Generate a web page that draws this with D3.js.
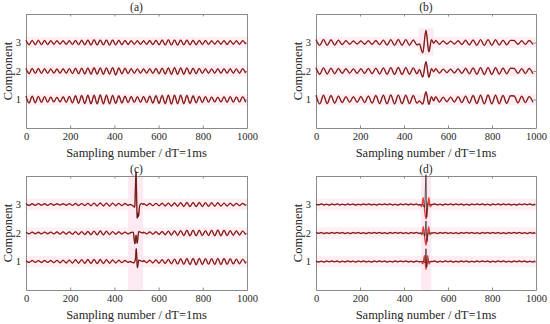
<!DOCTYPE html>
<html><head><meta charset="utf-8">
<script src="https://cdn.jsdelivr.net/npm/d3@7"></script>
<style>
body{margin:0;background:#fff}
svg{display:block}
text{font-family:"Liberation Serif","Times New Roman",serif;fill:#262626}
</style>
</head><body><svg id="chart" width="550" height="324"></svg>
<script>
// ---------- data ----------
const panelTitles = ["(a)", "(b)", "(c)", "(d)"];
const xTicks = [0, 200, 400, 600, 800, 1000];
const yTicks = [1, 2, 3];
const components = [1, 2, 3];
const xLabel = "Sampling number / dT=1ms";
const yLabel = "Component";
// sample spacing between successive extrema of the wiggle, per panel
const halfPeriods = [14, 17, 14, 12];

// panel (a) extrema (offset from component level)
const wigA1 = [.12,-.125,.12,-.115,.11,-.105,.1,-.095, .09,-.09,.085,-.09,.095,-.1,.11,-.12,.13,-.135, .14,-.145,.15,-.155,.15,-.155,.16,-.155,.15,-.15,.145,-.14,.13,-.125,.12, -.11,.105,-.1,.095,-.1,.105,-.11,.12,-.13,.135,-.14, .145,-.15,.155,-.16,.155,-.15,.155,-.15,.145,-.14,.13,-.12,.11,-.105,.1, -.095,.09,-.09,.085,-.09,.095,-.1,.1,-.095,.09,-.09,.095,-.1];
const wigA2 = [.09,-.095,.09,-.085,.09,-.085,.08,-.08, .075,-.075,.07,-.075,.08,-.08,.085,-.09,.095,-.1, .1,-.105,.11,-.11,.115,-.11,.11,-.115,.11,-.105,.12,-.14,.11,-.1,.095, -.09,.085,-.08,.075,-.075,.07,-.075,.08,-.085,.09,-.095, .1,-.105,.11,-.115,.12,-.115,.11,-.115,.11,-.105,.1,-.095,.09,-.085,.08, -.08,.075,-.075,.08,-.08,.085,-.08,.08,-.075,.075,-.08,.08,-.075];
const wigA3 = [.08,-.08,.075,-.08,.08,-.075,.07,-.07, .065,-.06,.06,-.055,.06,-.065,.06,-.065,.07,-.075, .08,-.085,.09,-.09,.095,-.09,.09,-.085,.09,-.095,.09,-.085,.08,-.08,.075, -.07,.065,-.06,.06,-.065,.06,-.065,.07,-.075,.08,-.085, .09,-.09,.095,-.09,.09,-.095,.09,-.085,.09,-.085,.08,-.08,.075,-.07,.07, -.065,.06,-.06,.065,-.06,.065,-.07,.065,-.06,.06,-.065,.06,-.06];

// panel (b)
const wigB1 = [.15,-.155,.15,-.145,.14,-.13,.12, -.11,.1,-.095,.095,-.1,.105,-.11,.12,-.13,.14,-.145, .15,-.155,.16,-.155,.155,-.15,.15,-.145,.14,-.13, 0,0,0,0, .1,-.09,.085,-.08,.085,-.09,.1, -.11,.12,-.13,.14,-.145,.15,-.155,.16,-.155,.15,-.15,.145,-.14,.13, .125,-.12,.115,-.11,.105,-.1];
const wigB2 = [.11,-.115,.11,-.105,.1,-.095,.09, -.085,.08,-.075,.075,-.08,.08,-.085,.09,-.095,.1,-.105, .11,-.115,.12,-.12,.125,-.12,.12,-.115,.11,-.1, 0,0,0,0, .08,-.07,.065,-.06,.065,-.07,.075, -.085,.095,-.1,.11,-.115,.12,-.125,.12,-.12,.115,-.11,.105,-.1,.095, .09,-.085,.085,-.09,.09,-.095];
const wigB3 = [.1,-.1,.105,-.1,.095,-.09,.085, -.075,.065,-.06,.055,-.05,.055,-.06,.06,-.065,.07,-.075, .085,-.09,.1,-.1,.105,-.1,.1,-.095,.09,-.085, 0,0,0,0, .07,-.06,.055,-.05,.05,-.055,.06, -.07,.08,-.085,.09,-.1,.1,-.105,.1,-.1,.095,-.09,.085,-.08,.075, .07,-.065,.06,-.065,.07,-.07];

// panel (c)
const wigC1 = [.03,-.03,.035,-.03,.03,-.035,.035,-.03,.035,-.04,.04,-.045,.045,-.05,.05,-.055,.06,-.06,.065,-.065,.07, -.07,.075,-.075,.07,-.07,.065,-.06,.055,-.05,.045,-.04,.035,-.03, 0,0,0,0, .035,-.04,.045,-.05,.055,-.06,.065,-.07,.075,-.08,.085,-.09, .095,-.1,.105,-.11,.11,-.115,.11,-.105,.1,-.095,.1,-.105,.11,-.11,.105,-.1,.095,-.09,.085,-.08,.075,-.07];
const wigC2 = [.025,-.03,.03,-.025,.025,-.03,.03,-.025,.03,-.03,.035,-.035,.04,-.04,.04,-.045,.045,-.05,.05,-.055,.055, -.06,.065,-.065,.07,-.065,.06,-.055,.05,-.045,.04,-.035,.03,-.03, 0,0,0,0, .03,-.03,.035,-.04,.045,-.05,.055,-.06,.065,-.07,.075,-.08, .085,-.09,.095,-.1,.1,-.1,.095,-.09,.085,-.09,.095,-.1,.105,-.1,.095,-.09,.085,-.08,.075,-.07,.065,-.06];
const wigC3 = [.03,-.03,.025,-.03,.03,-.025,.025,-.03,.03,-.025,.025,-.02,.025,-.025,.03,-.03,.035,-.035,.03,-.035,.04, -.045,.05,-.05,.055,-.05,.05,-.055,.05,-.045,.04,-.04,.035,-.03, 0,0,0,0, .03,-.035,.035,-.04,.04,-.045,.045,-.05,.05,-.055,.055,-.06, .065,-.07,.07,-.075,.075,-.075,.07,-.07,.065,-.065,.06,-.06,.06,-.055,.05,-.05,.045,-.045,.04,-.04,.035,-.035];

// panel (d)
const wigD1 = [.012,-.015,.01,-.018,.015,-.01,.02,-.012,.015,-.018,.01,-.015,.02,-.01,.012,-.018,.015,-.012,.02,-.015,.01,-.018,.015,-.012,.02,-.01,.015,-.018,.012,-.015,.02,-.01,.015,-.012,.018,-.015,.01,-.02,.015,-.012, 0,0,0,0,0, .015,-.02,.01,-.015,.018,-.012,.015,-.02,.01,-.015,.02,-.012,.015,-.018,.01,-.015,.02,-.012,.018,-.01,.015,-.02,.012,-.015,.018,-.01,.02,-.015,.012,-.018,.015,-.01,.02,-.012,.015,-.018,.01,-.015,.02];
const wigD2 = [.018,-.012,.015,-.02,.01,-.015,.018,-.012,.02,-.01,.015,-.018,.012,-.02,.015,-.01,.018,-.015,.012,-.02,.015,-.012,.02,-.01,.018,-.015,.01,-.02,.015,-.012,.018,-.01,.02,-.015,.012,-.018,.015,-.01,.02,-.015, 0,0,0,0,0, .012,-.018,.015,-.01,.02,-.015,.012,-.018,.01,-.02,.015,-.012,.018,-.01,.02,-.015,.012,-.02,.015,-.01,.018,-.015,.02,-.012,.015,-.018,.01,-.02,.015,-.012,.018,-.01,.02,-.015,.012,-.018,.015,-.01,.02];
const wigD3 = [.015,-.01,.02,-.015,.01,-.02,.015,-.01,.02,-.015,.012,-.018,.02,-.012,.015,-.02,.01,-.015,.018,-.012,.02,-.015,.01,-.02,.015,-.012,.018,-.01,.02,-.015,.012,-.02,.015,-.01,.018,-.015,.02,-.012,.015,-.018, 0,0,0,0,0, .02,-.015,.012,-.02,.015,-.01,.018,-.015,.02,-.012,.015,-.018,.01,-.02,.015,-.012,.018,-.01,.02,-.015,.012,-.02,.015,-.01,.018,-.015,.02,-.012,.015,-.018,.01,-.02,.015,-.012,.018,-.01,.02,-.015,.012];

// event wavelets around sample 500: [sample, offset]
const evB1 = [[470,-.05],[485,-.16],[500,.27],[513,-.17],[525,.1],[535,-.05]];
const evB2 = [[470,.05],[485,-.21],[500,.33],[513,-.22],[525,.08],[535,-.03]];
const evB3 = [[470,-.05],[485,-.36],[500,.42],[513,-.33],[525,.1],[535,-.03]];

const evC1red = [[470,0],[488,-.05],[495,.08],[499,.45],[504,-.22],[510,.05],[520,.02],[530,0]];
const evC2red = [[470,0],[485,.03],[493,-.38],[498,-.08],[503,-.36],[510,.05],[520,.02],[530,0]];
const evC3red = [[470,0],[485,-.05],[492,-.1],[498,1.15],[503,-.48],[506,-.3],[509,-.42],[514,-.05],[522,.04],[530,0]];
const evC1blk = evC1red, evC2blk = evC2red, evC3blk = evC3red;

const evD1red = [[478,0],[486,-.08],[493,.2],[500,-.28],[507,.2],[514,-.08],[522,0]];
const evD2red = [[474,0],[482,-.06],[488,.22],[494,-.15],[500,-.42],[506,-.15],[512,.22],[518,-.06],[526,0]];
const evD3red = [[472,0],[481,-.08],[487,.24],[494,-.2],[500,-.5],[506,-.2],[513,.24],[519,-.08],[528,0]];
const evD1blk = [[490,0],[496,-.05],[500,.45],[503,-.2],[508,0]];
const evD2blk = [[488,0],[495,-.1],[500,.42],[504,-.3],[510,0]];
const evD3blk = [[486,0],[494,-.1],[500,1.05],[503,-.45],[507,.05],[514,0]];

// light shaded zones [x0, x1, y0, y1]
const vZones = [null, [466, 534, 2.55, 3.5], [462, 530, 0, 4], [478, 524, 0, 4]];
const hZoneHalf = 0.2;

const wiggles = [[wigA1, wigA2, wigA3], [wigB1, wigB2, wigB3], [wigC1, wigC2, wigC3], [wigD1, wigD2, wigD3]];
const eventsRed = [[null, null, null], [evB1, evB2, evB3], [evC1red, evC2red, evC3red], [evD1red, evD2red, evD3red]];
const eventsBlk = [[null, null, null], [evB1, evB2, evB3], [evC1blk, evC2blk, evC3blk], [evD1blk, evD2blk, evD3blk]];

// ---------- layout ----------
const layout = [
  {x0: 26, x1: 247, y0: 14, y1: 128},
  {x0: 316, x1: 536, y0: 14, y1: 128},
  {x0: 26, x1: 247, y0: 176, y1: 290},
  {x0: 316, x1: 536, y0: 176, y1: 290}
];

const svg = d3.select("#chart");
const fmt = d3.format("d");

function buildPoints(wig, hp, ev) {
  let pts = wig.map((v, i) => [i * hp, v]).filter(d => d[0] <= 1000);
  if (ev) {
    const s0 = ev[0][0], s1 = ev[ev.length - 1][0];
    pts = pts.filter(d => d[0] < s0 || d[0] > s1).concat(ev);
    pts.sort((a, b) => a[0] - b[0]);
  }
  return pts;
}

layout.forEach((L, p) => {
  const w = L.x1 - L.x0, h = L.y1 - L.y0;
  const x = d3.scaleLinear().domain([0, 1000]).range([0, w]);
  const y = d3.scaleLinear().domain([0, 4]).range([h, 0]);
  const g = svg.append("g").attr("transform", `translate(${L.x0},${L.y0})`);

  // shaded zones
  components.forEach(c => {
    g.append("rect")
      .attr("x", x(0)).attr("width", x(1000) - x(0))
      .attr("y", y(c + hZoneHalf)).attr("height", y(c - hZoneHalf) - y(c + hZoneHalf))
      .attr("fill", "#fdeff5");
  });
  const vz = vZones[p];
  if (vz) {
    g.append("rect")
      .attr("x", x(vz[0])).attr("width", x(vz[1]) - x(vz[0]))
      .attr("y", y(vz[3])).attr("height", y(vz[2]) - y(vz[3]))
      .attr("fill", "#fce9f2");
  }

  // axes
  const ax = g.append("g").attr("transform", `translate(0,${h})`)
    .call(d3.axisBottom(x).tickValues(xTicks).tickFormat(fmt).tickSizeInner(-2.5).tickSizeOuter(0).tickPadding(5));
  const ay = g.append("g")
    .call(d3.axisLeft(y).tickValues(yTicks).tickFormat(fmt).tickSizeInner(-2.5).tickSizeOuter(0).tickPadding(5));
  const at = g.append("g")
    .call(d3.axisTop(x).tickValues(xTicks).tickSizeInner(-2.5).tickSizeOuter(0).tickFormat(""));
  const ar = g.append("g").attr("transform", `translate(${w},0)`)
    .call(d3.axisRight(y).tickValues(yTicks).tickSizeInner(-2.5).tickSizeOuter(0).tickFormat(""));
  [ax, ay, at, ar].forEach(a => {
    a.attr("font-family", null);
    a.select(".domain").attr("stroke", "#8a8a8a");
    a.selectAll(".tick line").attr("stroke", "#8a8a8a");
    a.selectAll(".tick text").attr("font-size", 10.5).attr("fill", "#333");
  });

  // traces
  const line = d3.line().x(d => x(d[0])).y(d => y(d[1])).curve(d3.curveMonotoneX);
  components.forEach((c, k) => {
    const hp = halfPeriods[p];
    const red = buildPoints(wiggles[p][k], hp, eventsRed[p][k]).map(d => [d[0], d[1] + c]);
    const blk = buildPoints(wiggles[p][k], hp, eventsBlk[p][k]).map(d => [d[0], d[1] + c]);
    g.append("path").attr("d", line(red)).attr("fill", "none")
      .attr("stroke", "#e2413a").attr("stroke-width", 1.4).attr("stroke-linejoin", "round");
    g.append("path").attr("d", line(blk)).attr("fill", "none")
      .attr("stroke", "#1e120e").attr("stroke-width", 0.75).attr("stroke-opacity", 0.9);
  });

  // titles & labels
  g.append("text").attr("x", w / 2).attr("y", -3).attr("text-anchor", "middle")
    .attr("font-size", 11.5).text(panelTitles[p]);
  g.append("text").attr("x", w / 2).attr("y", h + 28.5).attr("text-anchor", "middle")
    .attr("font-size", 12.5).text(xLabel);
  g.append("text").attr("transform", `translate(-14,${h / 2}) rotate(-90)`)
    .attr("text-anchor", "middle").attr("font-size", 12.5).text(yLabel);
});
</script>
</body></html>
